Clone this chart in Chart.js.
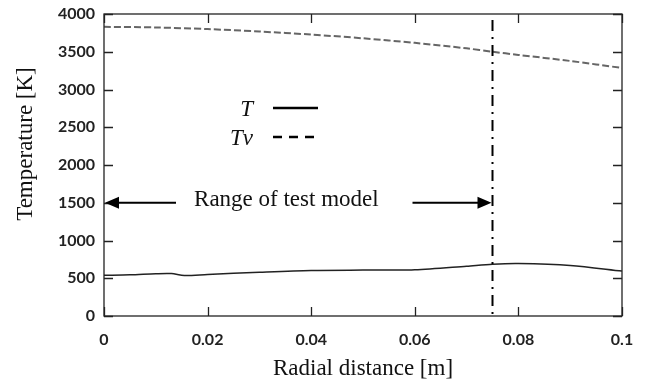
<!DOCTYPE html>
<html>
<head>
<meta charset="utf-8">
<script src="https://cdn.jsdelivr.net/npm/chart.js@4.4.0/dist/chart.umd.min.js"></script>
<style>
  html, body { margin: 0; padding: 0; background: #fff; }
  #wrap { width: 649px; height: 383px; }
</style>
</head>
<body>
<div id="wrap"><canvas id="tempChart" width="649" height="383"></canvas></div>
<script>
// data
const radialT = [0, 0.005, 0.01, 0.013, 0.0155, 0.02, 0.03, 0.04, 0.05, 0.055, 0.06, 0.07, 0.075, 0.08, 0.09, 0.1];
const tempT   = [540, 545, 560, 562, 535, 550, 580, 604, 608, 608, 612, 660, 686, 695, 670, 595];
const radialTv = [0, 0.01, 0.02, 0.03, 0.04, 0.05, 0.06, 0.07, 0.075, 0.08, 0.09, 0.1];
const tempTv   = [3830, 3822, 3800, 3768, 3728, 3678, 3618, 3545, 3500, 3458, 3378, 3285];
const xTicks = [0, 0.02, 0.04, 0.06, 0.08, 0.1];
const yTicks = [0, 500, 1000, 1500, 2000, 2500, 3000, 3500, 4000];
const testLimit = 0.075;
const arrowLevel = 1500;
const rangeLabel = "Range of test model";
const yTitle = "Temperature [K]";

function pts(xs, ys) {
    return xs.map(function(x, i) { return {x: x, y: ys[i]}; });
}

const tickFont = {family: "Lato, 'DejaVu Sans', sans-serif", size: 16, weight: 'bold'};
const serif = "'Liberation Serif', 'DejaVu Serif', serif";

// frame, inward ticks, limit line, arrows, y title and legend
const extras = {
    id: 'extras',
    afterDatasetsDraw(chart) {
        const ctx = chart.ctx;
        const a = chart.chartArea;
        const xs = chart.scales.x;
        const ys = chart.scales.y;
        ctx.save();
        ctx.strokeStyle = '#222';
        ctx.lineWidth = 1.3;
        ctx.strokeRect(a.left, a.top, a.right - a.left, a.bottom - a.top);

        ctx.beginPath();
        xTicks.forEach(function(v) {
            const px = Math.round(xs.getPixelForValue(v)) + 0.5;
            ctx.moveTo(px, a.bottom); ctx.lineTo(px, a.bottom - 9);
            ctx.moveTo(px, a.top); ctx.lineTo(px, a.top + 9);
        });
        yTicks.forEach(function(v) {
            const py = Math.round(ys.getPixelForValue(v)) + 0.5;
            ctx.moveTo(a.left, py); ctx.lineTo(a.left + 9, py);
            ctx.moveTo(a.right, py); ctx.lineTo(a.right - 9, py);
        });
        ctx.stroke();

        // dash-dot limit line
        const lx = xs.getPixelForValue(testLimit);
        ctx.strokeStyle = '#000';
        ctx.lineWidth = 2;
        ctx.setLineDash([11, 6, 2, 6]);
        ctx.beginPath();
        ctx.moveTo(lx, a.top + 6);
        ctx.lineTo(lx, a.bottom);
        ctx.stroke();
        ctx.setLineDash([]);

        // range arrows
        const ay = ys.getPixelForValue(arrowLevel);
        const x0 = xs.getPixelForValue(0);
        ctx.lineWidth = 2;
        ctx.beginPath();
        ctx.moveTo(x0 + 12, ay); ctx.lineTo(x0 + 72, ay);
        ctx.moveTo(lx - 80, ay); ctx.lineTo(lx - 12, ay);
        ctx.stroke();
        ctx.fillStyle = '#000';
        ctx.beginPath();
        ctx.moveTo(x0 + 1, ay); ctx.lineTo(x0 + 15, ay - 6); ctx.lineTo(x0 + 15, ay + 6); ctx.closePath();
        ctx.moveTo(lx - 1, ay); ctx.lineTo(lx - 15, ay - 6); ctx.lineTo(lx - 15, ay + 6); ctx.closePath();
        ctx.fill();

        ctx.font = '23px ' + serif;
        ctx.textAlign = 'center';
        ctx.textBaseline = 'middle';
        ctx.fillStyle = '#111';
        ctx.fillText(rangeLabel, xs.getPixelForValue(0.0352), ay - 3);

        // y axis title
        ctx.save();
        ctx.translate(26, 144);
        ctx.rotate(-Math.PI / 2);
        ctx.font = '23px ' + serif;
        ctx.fillText(yTitle, 0, 0);
        ctx.restore();

        // legend
        ctx.font = 'italic 23px ' + serif;
        ctx.textAlign = 'right';
        chart.data.datasets.forEach(function(ds, i) {
            const yy = 108 + i * 29;
            ctx.fillStyle = '#111';
            ctx.fillText(ds.label, 253, yy + 2);
            ctx.strokeStyle = '#000';
            ctx.lineWidth = 2.5;
            ctx.setLineDash(i === 0 ? [] : [9, 7]);
            ctx.beginPath();
            ctx.moveTo(273, yy); ctx.lineTo(318, yy);
            ctx.stroke();
        });
        ctx.restore();
    }
};

new Chart(document.getElementById('tempChart'), {
    type: 'scatter',
    data: {
        datasets: [{
            label: 'T',
            data: pts(radialT, tempT),
            showLine: true,
            borderColor: '#222',
            borderWidth: 1.5,
            pointRadius: 0,
            tension: 0.3
        }, {
            label: 'Tv',
            data: pts(radialTv, tempTv),
            showLine: true,
            borderColor: '#666',
            borderWidth: 2,
            borderDash: [7, 3],
            pointRadius: 0,
            tension: 0.3
        }]
    },
    options: {
        responsive: false,
        animation: false,
        layout: {padding: {left: 0, right: 27, top: 14, bottom: 0}},
        plugins: {legend: {display: false}, tooltip: {enabled: false}},
        scales: {
            x: {
                type: 'linear',
                min: 0, max: 0.1,
                afterFit: function(s) { s.height = 67; s.paddingLeft = 0; s.paddingRight = 0; },
                afterBuildTicks: function(s) { s.ticks = xTicks.map(function(v) { return {value: v}; }); },
                grid: {display: false, drawTicks: false},
                border: {display: false},
                ticks: {
                    color: '#222', font: tickFont, padding: 14,
                    callback: function(v) { return String(v); }
                },
                title: {display: true, text: 'Radial distance [m]', color: '#111',
                        font: {family: serif, size: 23}, padding: {top: 0, bottom: 0}}
            },
            y: {
                min: 0, max: 4000,
                afterFit: function(s) { s.width = 104; s.paddingTop = 0; s.paddingBottom = 0; },
                afterBuildTicks: function(s) { s.ticks = yTicks.map(function(v) { return {value: v}; }); },
                grid: {display: false, drawTicks: false},
                border: {display: false},
                ticks: {color: '#222', font: tickFont, padding: 9,
                        callback: function(v) { return String(v); }},
                title: {display: false}
            }
        }
    },
    plugins: [extras]
});
</script>
</body>
</html>
